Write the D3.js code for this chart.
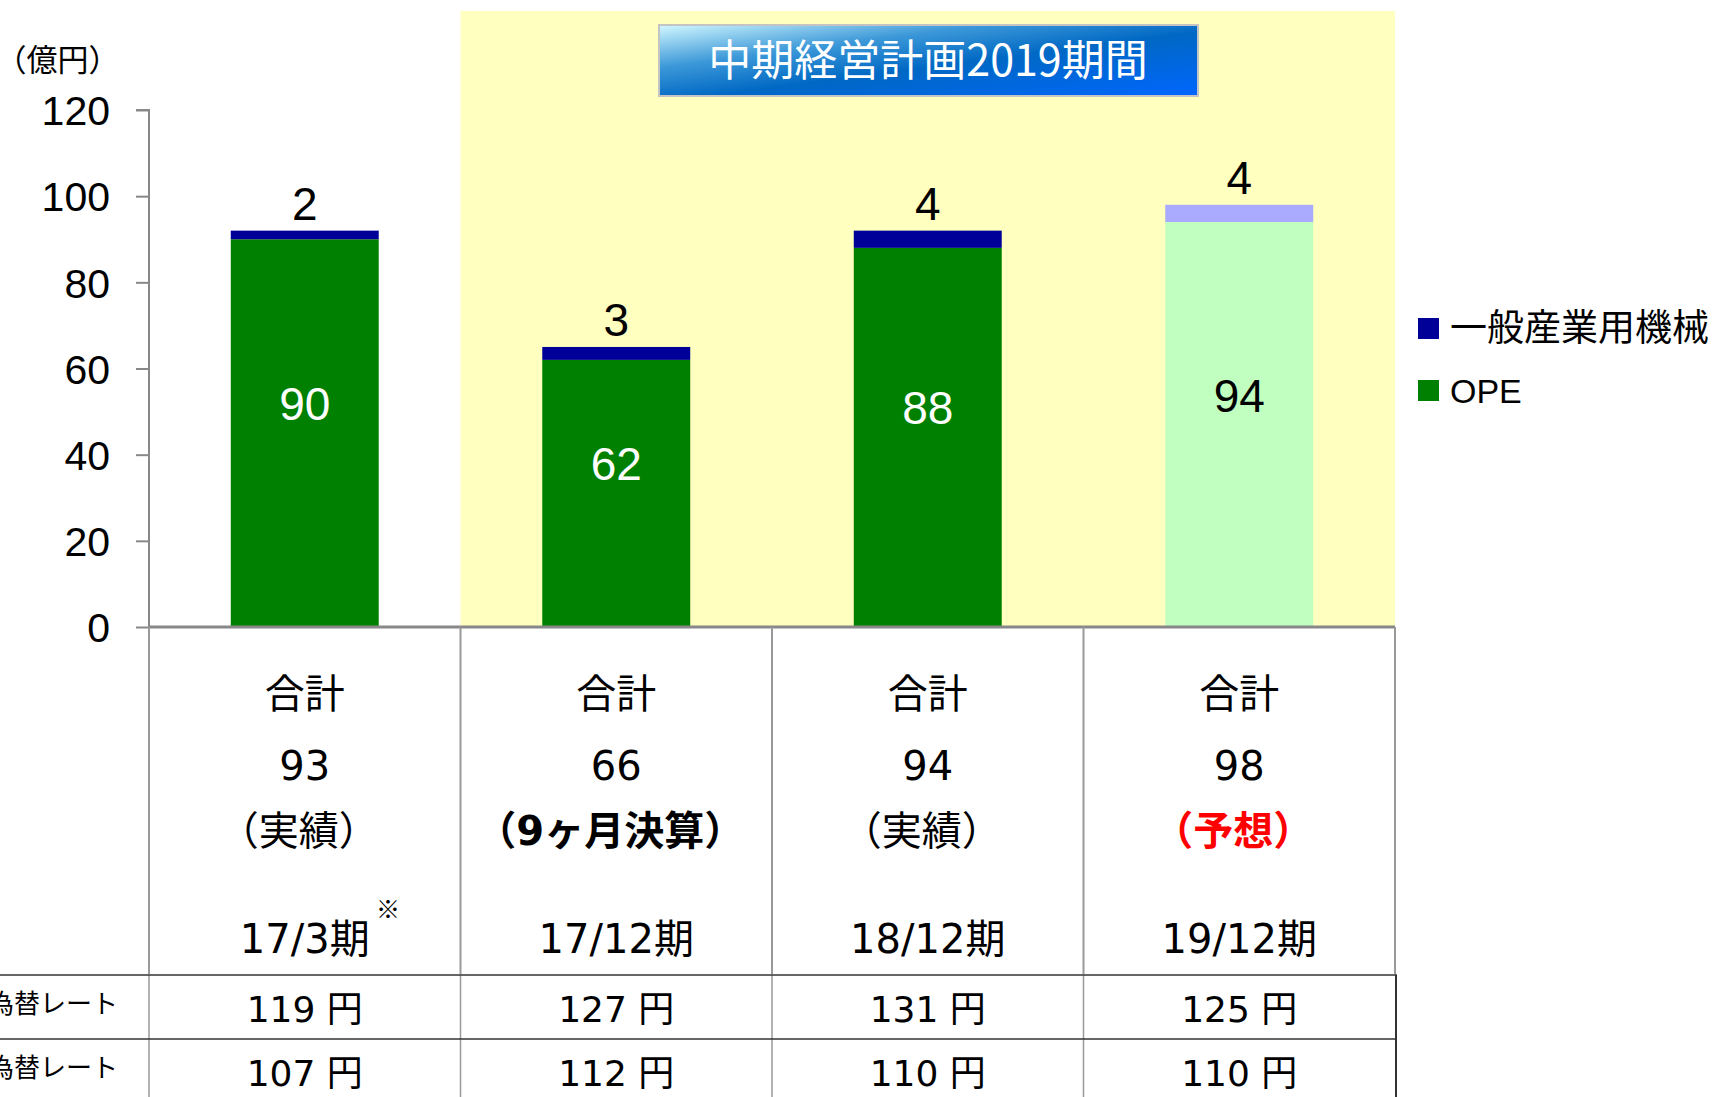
<!DOCTYPE html>
<html>
<head>
<meta charset="utf-8">
<script src="https://cdn.jsdelivr.net/npm/d3@7"></script>
<style>
  body { margin: 0; background: #fff; }
  svg { display: block; }
  .jp { font-family: "Noto Sans CJK JP", sans-serif; }
  .tbl { font-family: "DejaVu Sans", "Noto Sans CJK JP", sans-serif; }
  .halt { font-feature-settings: "halt"; }
</style>
</head>
<body>
<div id="chart"></div>
<script>
// Data
var categories = ["17/3期", "17/12期", "18/12期", "19/12期"];
var seriesNames = ["OPE", "一般産業用機械"];
var opeValues = [90, 62, 88, 94];
var machineValues = [2, 3, 4, 4];
var totals = [93, 66, 94, 98];
var notes = ["（実績）", "（9ヶ月決算）", "（実績）", "（予想）"];
var forecast = [false, false, false, true];
var rateEur = [119, 127, 131, 125];
var rateUsd = [107, 112, 110, 110];
var rateLabels = ["ユーロ為替レート", "ドル為替レート"];
var yTicks = [0, 20, 40, 60, 80, 100, 120];

var W = 1713, H = 1097;
var plotLeft = 149, plotRight = 1395, plotTop = 110, plotBase = 627;

var colors = {
  "OPE": ["#008000", "#c0ffc0"],
  "一般産業用機械": ["#000099", "#aaaaff"]
};

var svg = d3.select("#chart").append("svg")
  .attr("width", W)
  .attr("height", H);

var defs = svg.append("defs");
var grad = defs.append("linearGradient")
  .attr("id", "titleGrad")
  .attr("x1", "0").attr("y1", "0").attr("x2", "1").attr("y2", "1");
grad.append("stop").attr("offset", "0").attr("stop-color", "#d2f8ff");
grad.append("stop").attr("offset", "0.3").attr("stop-color", "#3c98d8");
grad.append("stop").attr("offset", "0.55").attr("stop-color", "#0068c4");
grad.append("stop").attr("offset", "1").attr("stop-color", "#0066ff");

var x = d3.scaleBand().domain(categories).range([plotLeft, plotRight]).padding(0);
var y = d3.scaleLinear().domain([0, 120]).range([plotBase, plotTop]);
var barW = x.bandwidth() * 0.475;

// highlighted period (mid-term plan)
svg.append("rect")
  .attr("x", x(categories[1]))
  .attr("y", 11)
  .attr("width", plotRight - x(categories[1]))
  .attr("height", plotBase - 11)
  .attr("fill", "#ffffc0");

// title box
var tb = svg.append("g");
tb.append("rect")
  .attr("x", 659).attr("y", 25).attr("width", 539).attr("height", 71)
  .attr("fill", "url(#titleGrad)")
  .attr("stroke", "#c4c4c4").attr("stroke-width", 2);
tb.append("text")
  .attr("class", "jp")
  .attr("x", 928).attr("y", 76)
  .attr("text-anchor", "middle")
  .attr("fill", "#fff")
  .attr("font-size", 43)
  .text("中期経営計画2019期間");

// unit label
svg.append("text")
  .attr("class", "jp halt")
  .attr("x", 11).attr("y", 71)
  .attr("font-size", 31)
  .text("（億円）");

// y axis
var yAxis = d3.axisLeft(y).tickValues(yTicks).tickSize(13).tickPadding(26);
var ga = svg.append("g")
  .attr("transform", "translate(" + plotLeft + ",0)")
  .call(yAxis);
ga.select(".domain").attr("stroke", "#888").attr("stroke-width", 2)
  .attr("d", "M-13," + plotTop + "H0V" + plotBase);
ga.selectAll(".tick line").attr("stroke", "#888").attr("stroke-width", 2);
ga.selectAll(".tick text")
  .attr("font-family", "'Liberation Sans', Arial, sans-serif")
  .attr("font-size", 41)
  .attr("fill", "#000")
  .attr("dy", "0.36em");

// stacked bars
var rows = categories.map(function(c, i) {
  return {cat: c, "OPE": opeValues[i], "一般産業用機械": machineValues[i], i: i};
});
var stack = d3.stack().keys(seriesNames)(rows);

var layer = svg.selectAll(".layer")
    .data(stack)
  .enter().append("g")
    .attr("class", "layer");

layer.selectAll("rect")
    .data(function(s) { return s.map(function(d) { return {key: s.key, d: d}; }); })
  .enter().append("rect")
    .attr("x", function(e) { return x(e.d.data.cat) + (x.bandwidth() - barW) / 2; })
    .attr("y", function(e) { return y(e.d[1]); })
    .attr("width", barW)
    .attr("height", function(e) { return y(e.d[0]) - y(e.d[1]); })
    .attr("fill", function(e) { return colors[e.key][forecast[e.d.data.i] ? 1 : 0]; });

// OPE labels inside bars
svg.selectAll(".opeLabel")
    .data(rows)
  .enter().append("text")
    .attr("x", function(d) { return x(d.cat) + x.bandwidth() / 2; })
    .attr("y", function(d) { return y(d["OPE"] / 2) - 13; })
    .attr("text-anchor", "middle")
    .attr("font-family", "'Liberation Sans', Arial, sans-serif")
    .attr("font-size", 46)
    .attr("fill", function(d) { return forecast[d.i] ? "#000" : "#fff"; })
    .text(function(d) { return d["OPE"]; });

// machinery labels above bars
svg.selectAll(".topLabel")
    .data(rows)
  .enter().append("text")
    .attr("x", function(d) { return x(d.cat) + x.bandwidth() / 2; })
    .attr("y", function(d) { return y(d["OPE"] + d["一般産業用機械"]) - 11; })
    .attr("text-anchor", "middle")
    .attr("font-family", "'Liberation Sans', Arial, sans-serif")
    .attr("font-size", 46)
    .attr("fill", "#000")
    .text(function(d) { return d["一般産業用機械"]; });

// legend
var legend = svg.selectAll(".legend")
    .data(["一般産業用機械", "OPE"])
  .enter().append("g")
    .attr("transform", function(d, i) { return "translate(1418," + (318 + i * 62) + ")"; });
legend.append("rect")
  .attr("width", 21).attr("height", 21)
  .attr("fill", function(d) { return colors[d][0]; });
legend.append("text")
  .attr("x", 32).attr("y", 23)
  .attr("font-family", function(d) { return d == "OPE" ? "'Liberation Sans', Arial, sans-serif" : "'Noto Sans CJK JP', sans-serif"; })
  .attr("font-size", function(d) { return d == "OPE" ? 34 : 37; })
  .text(function(d) { return d; });

// x axis line
svg.append("line")
  .attr("x1", plotLeft).attr("x2", plotRight)
  .attr("y1", plotBase).attr("y2", plotBase)
  .attr("stroke", "#888").attr("stroke-width", 3);

// table under chart
var tableBottom = 974, row1 = 975, row2 = 1039;
var dividers = categories.map(function(c) { return x(c); }).concat([plotRight]);

svg.selectAll(".colDiv")
    .data(dividers)
  .enter().append("line")
    .attr("x1", function(d) { return d; }).attr("x2", function(d) { return d; })
    .attr("y1", plotBase).attr("y2", tableBottom)
    .attr("stroke", "#999").attr("stroke-width", 2);

svg.selectAll(".rateDiv")
    .data(dividers.slice(0, 4))
  .enter().append("line")
    .attr("x1", function(d) { return d; }).attr("x2", function(d) { return d; })
    .attr("y1", row1).attr("y2", H)
    .attr("stroke", "#999").attr("stroke-width", 1.5);

svg.append("line")
  .attr("x1", plotRight + 1).attr("x2", plotRight + 1)
  .attr("y1", row1).attr("y2", H)
  .attr("stroke", "#333").attr("stroke-width", 2);

[row1, row2].forEach(function(r) {
  svg.append("line")
    .attr("x1", 0).attr("x2", plotRight + 2)
    .attr("y1", r).attr("y2", r)
    .attr("stroke", "#333").attr("stroke-width", 1.5);
});

var cx = function(c) { return x(c) + x.bandwidth() / 2; };

var cells = svg.selectAll(".cell")
    .data(rows)
  .enter().append("g")
    .attr("class", "tbl")
    .attr("text-anchor", "middle")
    .attr("font-size", 40);

cells.append("text")
  .attr("x", function(d) { return cx(d.cat); })
  .attr("y", 708)
  .text("合計");

cells.append("text")
  .attr("x", function(d) { return cx(d.cat); })
  .attr("y", 780)
  .text(function(d) { return totals[d.i]; });

cells.append("text")
  .attr("class", "halt")
  .attr("x", function(d) { return cx(d.cat) - 6; })
  .attr("y", 845)
  .attr("font-weight", function(d) { return d.i == 0 || d.i == 2 ? "normal" : "bold"; })
  .attr("fill", function(d) { return forecast[d.i] ? "#ff0000" : "#000"; })
  .text(function(d) { return notes[d.i]; });

cells.append("text")
  .attr("x", function(d) { return cx(d.cat); })
  .attr("y", 953)
  .text(function(d) { return d.cat; });

cells.append("text")
  .attr("x", function(d) { return cx(d.cat); })
  .attr("y", 1022)
  .attr("font-size", 36)
  .text(function(d) { return rateEur[d.i] + " 円"; });

cells.append("text")
  .attr("x", function(d) { return cx(d.cat); })
  .attr("y", 1086)
  .attr("font-size", 36)
  .text(function(d) { return rateUsd[d.i] + " 円"; });

// footnote mark on first period
svg.append("text")
  .attr("class", "jp")
  .attr("x", 388).attr("y", 918)
  .attr("text-anchor", "middle")
  .attr("font-size", 24)
  .text("※");

// rate row labels (cut at the left edge)
svg.selectAll(".rateLabel")
    .data(rateLabels)
  .enter().append("text")
    .attr("class", "jp")
    .attr("x", 118)
    .attr("y", function(d, i) { return i == 0 ? 1013 : 1077; })
    .attr("text-anchor", "end")
    .attr("font-size", 26)
    .text(function(d) { return d; });
</script>
</body>
</html>
